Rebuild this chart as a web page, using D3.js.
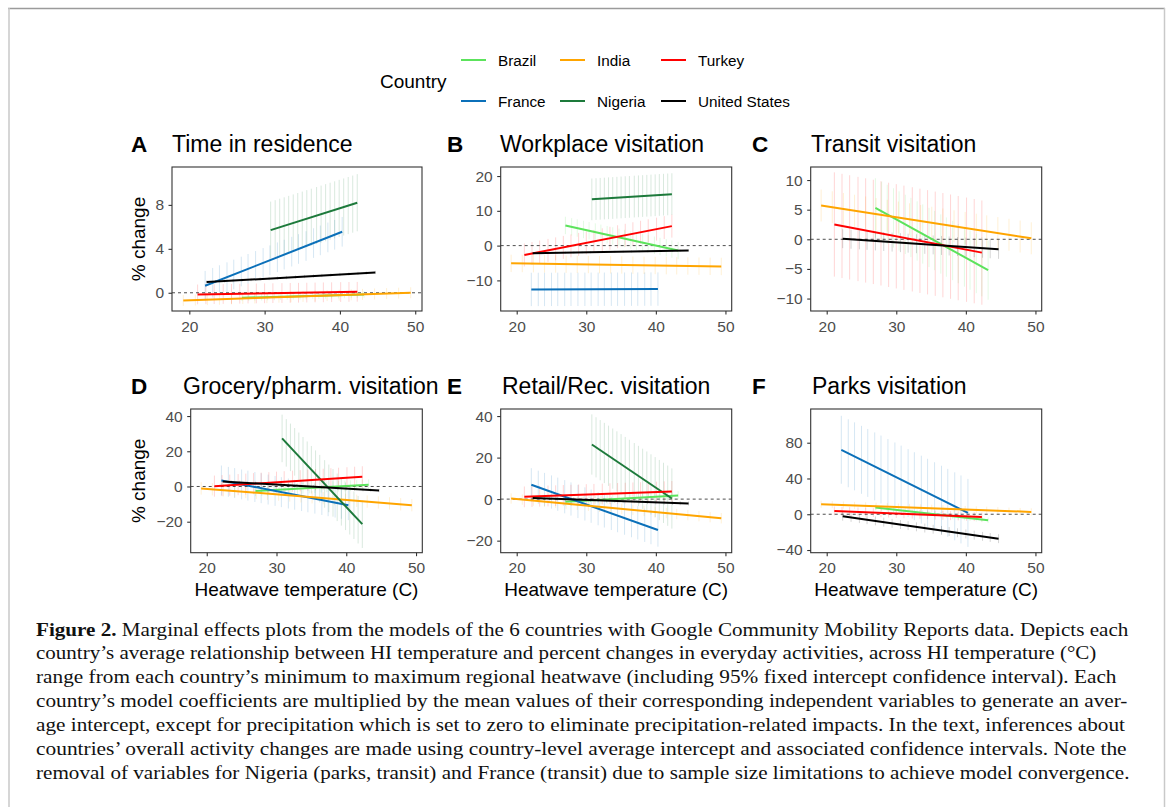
<!DOCTYPE html>
<html>
<head>
<meta charset="utf-8">
<script src="https://cdn.jsdelivr.net/npm/d3@7"></script>
<style>
  body { margin: 0; background: #fff; }
  svg { display: block; }
</style>
</head>
<body>
<div id="chart"></div>
<script>
// ---- data ----
const countries = ["Brazil", "France", "India", "Nigeria", "Turkey", "United States"];
const countryColors = ["#5ce35c", "#0b70b9", "#ffa500", "#1d7a3b", "#ff0000", "#000000"];
const tempMin = [27.0, 22.1, 19.2, 30.8, 21.1, 22.3];
const tempMax = [43.2, 40.3, 49.4, 42.3, 42.3, 44.7];

// temperatures at which the confidence bars are drawn
const barTemps = [
  [27.0, 27.9, 28.7, 29.6, 30.4, 31.3, 32.1, 33.0, 33.8, 34.7, 35.5, 36.4, 37.2, 38.1, 38.9, 39.8, 40.6, 41.5, 42.3, 43.2],
  [22.1, 23.1, 24.0, 25.0, 25.9, 26.9, 27.8, 28.8, 29.8, 30.7, 31.7, 32.6, 33.6, 34.5, 35.5, 36.5, 37.4, 38.4, 39.3, 40.3],
  [19.2, 20.8, 22.4, 24.0, 25.6, 27.1, 28.7, 30.3, 31.9, 33.5, 35.1, 36.7, 38.3, 39.9, 41.5, 43.0, 44.6, 46.2, 47.8, 49.4],
  [30.8, 31.4, 32.0, 32.6, 33.2, 33.8, 34.4, 35.0, 35.6, 36.2, 36.9, 37.5, 38.1, 38.7, 39.3, 39.9, 40.5, 41.1, 41.7, 42.3],
  [21.1, 22.2, 23.3, 24.5, 25.6, 26.7, 27.8, 28.9, 30.0, 31.1, 32.3, 33.4, 34.5, 35.6, 36.7, 37.8, 38.9, 40.1, 41.2, 42.3],
  [22.3, 23.5, 24.7, 25.8, 27.0, 28.2, 29.4, 30.6, 31.7, 32.9, 34.1, 35.3, 36.5, 37.6, 38.8, 40.0, 41.2, 42.4, 43.5, 44.7]
];

// % change at the lowest / highest temperature, and CI half width (null = not modelled)
const residenceStart = [-0.45, 0.64, -0.7, 5.7, -0.15, 0.97];
const residenceEnd   = [-0.15, 5.55, 0.0, 8.2, 0.09, 1.85];
const residenceCI    = [0.3, 1.35, 0.5, 2.6, 0.9, 0.15];

const workplaceStart = [5.8, -12.6, -5.1, 13.3, -2.7, -2.2];
const workplaceEnd   = [-1.4, -12.5, -6.0, 14.8, 5.6, -1.4];
const workplaceCI    = [2.5, 4.8, 2.5, 6.0, 3.3, 0.3];

const transitStart = [5.3, null, 5.7, null, 2.5, 0.1];
const transitEnd   = [-5.2, null, 0.17, null, -2.25, -1.7];
const transitCI    = [5.0, null, 2.7, null, 8.8, 1.6];

const groceryStart = [-2.5, 3.4, -1.1, 27.3, 0.2, 2.8];
const groceryEnd   = [1.0, -10.6, -10.6, -21.4, 5.5, -2.3];
const groceryCI    = [3.0, 8.5, 3.5, 13.5, 6.0, 1.0];

const retailStart = [-1.3, 6.9, 0.3, 26.3, 1.1, 0.6];
const retailEnd   = [1.8, -14.9, -9.2, 0.3, 3.7, -2.1];
const retailCI    = [2.0, 8.0, 2.5, 14.5, 5.0, 1.0];

const parksStart = [7.5, 72.1, 11.2, null, 3.7, -2.2];
const parksEnd   = [-6.7, 1.5, 2.6, null, -3.0, -27.3];
const parksCI    = [3.0, 38.0, 4.0, null, 5.0, 5.0];

const panelLetters = ["A", "B", "C", "D", "E", "F"];
const panelTitles = ["Time in residence", "Workplace visitation", "Transit visitation",
                     "Grocery/pharm. visitation", "Retail/Rec. visitation", "Parks visitation"];
const xTicks = [20, 30, 40, 50];
const yTicks = [[0, 4, 8], [-10, 0, 10, 20], [-10, -5, 0, 5, 10],
                [-20, 0, 20, 40], [-20, 0, 20, 40], [-40, 0, 40, 80]];
const yDomains = [[-1.66, 11.45], [-18.8, 22.6], [-12.1, 12.2],
                  [-37.6, 44], [-25.8, 43.4], [-43, 117.7]];

const captionLines = [
  "Marginal effects plots from the models of the 6 countries with Google Community Mobility Reports data. Depicts each",
  "country’s average relationship between HI temperature and percent changes in everyday activities, across HI temperature (°C)",
  "range from each country’s minimum to maximum regional heatwave (including 95% fixed intercept confidence interval). Each",
  "country’s model coefficients are multiplied by the mean values of their corresponding independent variables to generate an aver-",
  "age intercept, except for precipitation which is set to zero to eliminate precipitation-related impacts. In the text, inferences about",
  "countries’ overall activity changes are made using country-level average intercept and associated confidence intervals. Note the",
  "removal of variables for Nigeria (parks, transit) and France (transit) due to sample size limitations to achieve model convergence."
];

// ---- layout ----
const width = 1169, height = 807;
const font = "'Liberation Sans', Arial, sans-serif";
const xDomain = [17.7, 50.9];
// plot boxes [left, top, right, bottom]
const boxes = [
  [172, 167, 422, 311], [500.7, 167, 731.7, 311], [810.7, 167, 1041.7, 311],
  [190.7, 409, 422.3, 552.7], [500.7, 409, 731.7, 552.7], [810.7, 409, 1041.7, 552.7]
];
const letterX = [131, 447, 752, 131, 447, 752];
const titleX = [172, 500, 811, 183, 502, 812];

const panelData = [
  [residenceStart, residenceEnd, residenceCI],
  [workplaceStart, workplaceEnd, workplaceCI],
  [transitStart, transitEnd, transitCI],
  [groceryStart, groceryEnd, groceryCI],
  [retailStart, retailEnd, retailCI],
  [parksStart, parksEnd, parksCI]
];

const svg = d3.select("#chart").append("svg")
  .attr("width", width)
  .attr("height", height)
  .style("background", "#fff");

// page frame
svg.append("line").attr("x1", 8).attr("x2", 1165).attr("y1", 8.5).attr("y2", 8.5)
  .attr("stroke", "#9b9b9b").attr("stroke-width", 1.3);
svg.append("line").attr("x1", 9).attr("x2", 9).attr("y1", 8).attr("y2", height)
  .attr("stroke", "#c9c9c9").attr("stroke-width", 1.5);
svg.append("line").attr("x1", 1164.5).attr("x2", 1164.5).attr("y1", 8).attr("y2", height)
  .attr("stroke", "#c9c9c9").attr("stroke-width", 1.5);

// legend
const legend = svg.append("g").attr("font-family", font);
legend.append("text").attr("x", 380).attr("y", 88).attr("font-size", 19).text("Country");
const keyX = [461, 461, 560, 560, 661, 661];
const keyY = [60, 101, 60, 101, 60, 101];
countries.forEach((c, i) => {
  legend.append("line")
    .attr("x1", keyX[i]).attr("x2", keyX[i] + 25)
    .attr("y1", keyY[i]).attr("y2", keyY[i])
    .attr("stroke", countryColors[i]).attr("stroke-width", 2);
  legend.append("text")
    .attr("x", keyX[i] + 37).attr("y", keyY[i] + 6)
    .attr("font-size", 15.3).text(c);
});

// panels
panelData.forEach((pd, p) => {
  const [left, top, right, bottom] = boxes[p];
  const w = right - left, h = bottom - top;
  const [starts, ends, cis] = pd;

  const bounds = svg.append("g")
    .attr("transform", `translate(${left}, ${top})`);

  const xScale = d3.scaleLinear().domain(xDomain).range([0, w]);
  const yScale = d3.scaleLinear().domain(yDomains[p]).range([h, 0]);

  // confidence bars
  countries.forEach((c, i) => {
    if (starts[i] === null) return;
    const lineScale = d3.scaleLinear().domain([tempMin[i], tempMax[i]]).range([starts[i], ends[i]]);
    bounds.append("g")
      .selectAll("line")
      .data(barTemps[i])
      .join("line")
        .attr("x1", t => xScale(t))
        .attr("x2", t => xScale(t))
        .attr("y1", t => yScale(lineScale(t) - cis[i]))
        .attr("y2", t => yScale(lineScale(t) + cis[i]))
        .attr("stroke", countryColors[i])
        .attr("stroke-opacity", 0.17)
        .attr("stroke-width", 1);
  });

  // zero reference
  bounds.append("line")
    .attr("x1", 0).attr("x2", w)
    .attr("y1", yScale(0)).attr("y2", yScale(0))
    .attr("stroke", "#222")
    .attr("stroke-width", 0.8)
    .attr("stroke-dasharray", "3,3");

  // marginal effect lines
  const lineGenerator = d3.line()
    .x(d => xScale(d[0]))
    .y(d => yScale(d[1]));
  countries.forEach((c, i) => {
    if (starts[i] === null) return;
    bounds.append("path")
      .attr("d", lineGenerator([[tempMin[i], starts[i]], [tempMax[i], ends[i]]]))
      .attr("fill", "none")
      .attr("stroke", countryColors[i])
      .attr("stroke-width", 2);
  });

  // panel border
  bounds.append("rect")
    .attr("width", w).attr("height", h)
    .attr("fill", "none")
    .attr("stroke", "#333")
    .attr("stroke-width", 1.1);

  // axes
  const xAxis = bounds.append("g")
    .attr("transform", `translate(0, ${h})`)
    .call(d3.axisBottom(xScale).tickValues(xTicks).tickSize(3.5).tickPadding(6));
  const yAxis = bounds.append("g")
    .call(d3.axisLeft(yScale).tickValues(yTicks[p]).tickSize(3.5).tickPadding(4.5));
  [xAxis, yAxis].forEach(ax => {
    ax.select(".domain").remove();
    ax.selectAll(".tick line").attr("stroke", "#333").attr("stroke-width", 1.1);
    ax.selectAll(".tick text")
      .attr("fill", "#4d4d4d")
      .attr("font-family", font)
      .attr("font-size", 15.5);
  });

  // titles
  const titleY = top - 15;
  svg.append("text")
    .attr("x", letterX[p]).attr("y", titleY)
    .attr("font-family", font).attr("font-size", 22.5).attr("font-weight", "bold")
    .text(panelLetters[p]);
  svg.append("text")
    .attr("x", titleX[p]).attr("y", titleY)
    .attr("font-family", font).attr("font-size", 23)
    .text(panelTitles[p]);

  // axis titles
  if (p % 3 === 0) {
    svg.append("text")
      .attr("transform", `translate(145, ${top + h / 2}) rotate(-90)`)
      .attr("text-anchor", "middle")
      .attr("font-family", font).attr("font-size", 19)
      .text("% change");
  }
  if (p >= 3) {
    svg.append("text")
      .attr("x", left + w / 2).attr("y", bottom + 43.5)
      .attr("text-anchor", "middle")
      .attr("font-family", font).attr("font-size", 19)
      .text("Heatwave temperature (C)");
  }
});

// caption, each line stretched to the measured line end
const captionEnds = [1129, 1097, 1117, 1128, 1126, 1127, 1130];
const captionX = 36;
captionLines.forEach((line, i) => {
  const txt = svg.append("text")
    .attr("x", 0).attr("y", 0)
    .attr("font-family", "'Liberation Serif', 'Times New Roman', serif")
    .attr("font-size", 18.5)
    .attr("fill", "#111");
  if (i === 0) {
    txt.append("tspan").attr("font-weight", "bold").text("Figure 2.");
    txt.append("tspan").text(" " + line);
  } else {
    txt.text(line);
  }
  const natural = txt.node().getComputedTextLength();
  const s = (captionEnds[i] - captionX) / natural;
  txt.attr("transform", `translate(${captionX}, ${635.5 + i * 23.9}) scale(${s}, 1)`);
});
</script>
</body>
</html>
